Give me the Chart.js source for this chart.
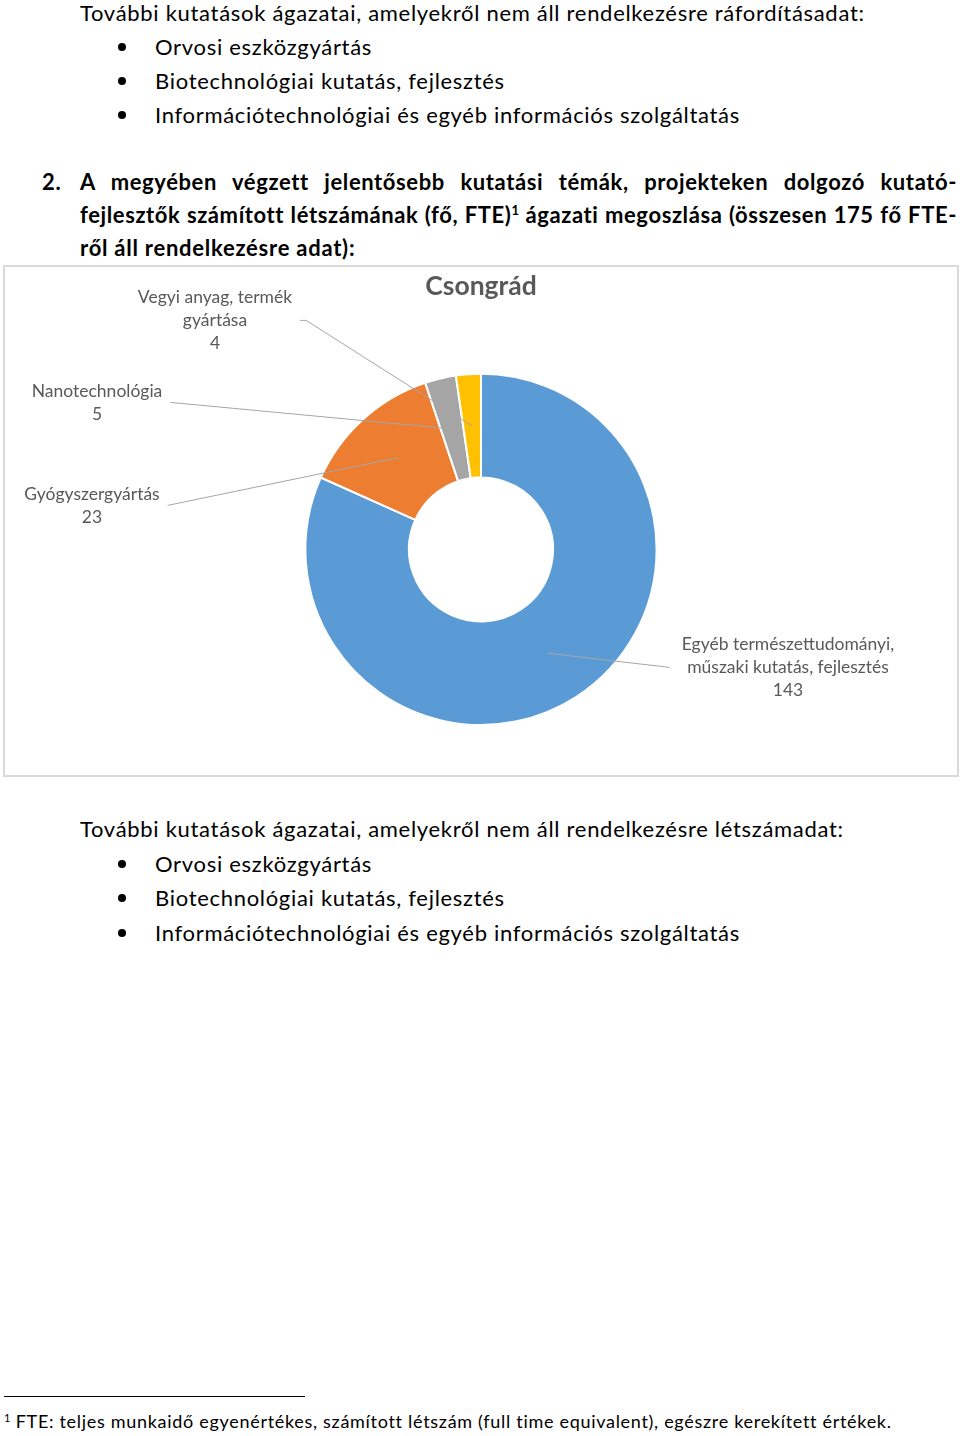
<!DOCTYPE html>
<html lang="hu">
<head>
<meta charset="utf-8">
<script src="https://cdn.jsdelivr.net/npm/chart.js@4/dist/chart.umd.min.js"></script>
<style>
    body { margin: 0; width: 960px; height: 1436px; position: relative; background: #fff; font-family: Lato, 'Open Sans', sans-serif; color: #000; overflow: hidden; }
    .t { position: absolute; left: 80px; font-size: 22px; letter-spacing: 0.7px; line-height: 34px; white-space: nowrap; }
    .li { left: 155px; }
    .dot { position: absolute; left: 118px; width: 8px; height: 8px; border-radius: 50%; background: #000; }
    .h { font-weight: bold; letter-spacing: 0.6px; width: 877px; text-align: justify; text-align-last: justify; }
    .h.last { text-align-last: left; letter-spacing: 0.75px; }
    sup { font-size: 13px; position: relative; top: -8px; vertical-align: baseline; line-height: 0; letter-spacing: 0; }
    .box { position: absolute; left: 3px; top: 265px; width: 952px; height: 508px; border: 2px solid #d9d9d9; }
    #chart { display: block; }
    .rule { position: absolute; left: 4px; top: 1396px; width: 301px; height: 1px; background: #000; }
    .fn { position: absolute; left: 4px; top: 1411px; font-size: 18px; letter-spacing: 0.7px; line-height: 20px; white-space: nowrap; }
</style>
</head>
<body>
<div class="t" style="top:-4px">További kutatások ágazatai, amelyekről nem áll rendelkezésre ráfordításadat:</div>
<div class="dot" style="top:43px"></div>
<div class="t li" style="top:30px">Orvosi eszközgyártás</div>
<div class="dot" style="top:77px"></div>
<div class="t li" style="top:64px">Biotechnológiai kutatás, fejlesztés</div>
<div class="dot" style="top:111px"></div>
<div class="t li" style="top:98px">Információtechnológiai és egyéb információs szolgáltatás</div>

<div class="t" style="top:165px; left:42px; font-weight:bold">2.</div>
<div class="t h" style="top:165px">A megyében végzett jelentősebb kutatási témák, projekteken dolgozó kutató-</div>
<div class="t h" style="top:198px">fejlesztők számított létszámának (fő, FTE)<sup>1</sup> ágazati megoszlása (összesen 175 fő FTE-</div>
<div class="t h last" style="top:231px">ről áll rendelkezésre adat):</div>

<div class="box"><canvas id="chart" width="952" height="508"></canvas></div>

<div class="t" style="top:812px">További kutatások ágazatai, amelyekről nem áll rendelkezésre létszámadat:</div>
<div class="dot" style="top:860px"></div>
<div class="t li" style="top:847px">Orvosi eszközgyártás</div>
<div class="dot" style="top:894px"></div>
<div class="t li" style="top:881px">Biotechnológiai kutatás, fejlesztés</div>
<div class="dot" style="top:929px"></div>
<div class="t li" style="top:916px">Információtechnológiai és egyéb információs szolgáltatás</div>

<div class="rule"></div>
<div class="fn"><sup style="font-size:11px; top:-6px">1</sup> FTE: teljes munkaidő egyenértékes, számított létszám (full time equivalent), egészre kerekített értékek.</div>

<script>
const chartTitle = 'Csongrád'
const categories = [
    'Egyéb természettudományi, műszaki kutatás, fejlesztés',
    'Gyógyszergyártás',
    'Nanotechnológia',
    'Vegyi anyag, termék gyártása'
]
const labelLines = [
    ['Egyéb természettudományi,', 'műszaki kutatás, fejlesztés'],
    ['Gyógyszergyártás'],
    ['Nanotechnológia'],
    ['Vegyi anyag, termék', 'gyártása']
]
const values = [143, 23, 5, 4]
const colors = ['#5b9bd5', '#ed7d31', '#a5a5a5', '#ffc000']

// where each label sits, measured from the doughnut centre
const labelPlace = [
    { dx: 307, dy: 118, side: 'right' },
    { dx: -389, dy: -44, side: 'left' },
    { dx: -384, dy: -147, side: 'left' },
    { dx: -266, dy: -229, side: 'left', knee: 6 }
]

const labelFont = '17.5px Lato, "Open Sans", sans-serif'
const labelLineHeight = 23

const calloutPlugin = {
    id: 'callouts',
    afterDatasetsDraw(chart) {
        const ctx = chart.ctx
        const arcs = chart.getDatasetMeta(0).data
        ctx.save()
        ctx.font = labelFont
        arcs.forEach((arc, i) => {
            const place = labelPlace[i]
            const lines = labelLines[i].concat(String(values[i]))
            const cx = arc.x + place.dx
            const cy = arc.y + place.dy
            const maxW = Math.max(...lines.map(l => ctx.measureText(l).width))
            const tip = arc.tooltipPosition()
            let ax = place.side == 'left' ? cx + maxW / 2 + 8 : cx - maxW / 2 - 12

            ctx.strokeStyle = '#a6a6a6'
            ctx.lineWidth = 1
            ctx.beginPath()
            ctx.moveTo(ax, cy)
            if (place.knee) {
                ax += place.knee
                ctx.lineTo(ax, cy)
            }
            ctx.lineTo(tip.x, tip.y)
            ctx.stroke()

            ctx.fillStyle = '#595959'
            ctx.textAlign = 'center'
            ctx.textBaseline = 'middle'
            const top = cy - (lines.length - 1) * labelLineHeight / 2
            lines.forEach((l, j) => ctx.fillText(l, cx, top + j * labelLineHeight))
        })
        ctx.restore()
    }
}

new Chart(document.getElementById('chart'), {
    type: 'doughnut',
    data: {
        labels: categories,
        datasets: [{
            data: values,
            backgroundColor: colors,
            borderColor: '#fff',
            borderWidth: 2
        }]
    },
    options: {
        responsive: false,
        devicePixelRatio: 1,
        animation: false,
        cutout: '41%',
        layout: { padding: { top: 0, bottom: 49, left: 0, right: 0 } },
        plugins: {
            legend: { display: false },
            tooltip: { enabled: false },
            title: {
                display: true,
                text: chartTitle,
                color: '#595959',
                font: { family: 'Lato', size: 26.5, weight: 'bold', lineHeight: 1.2 },
                padding: { top: 4, bottom: 70 }
            }
        }
    },
    plugins: [calloutPlugin]
})
</script>
</body>
</html>
